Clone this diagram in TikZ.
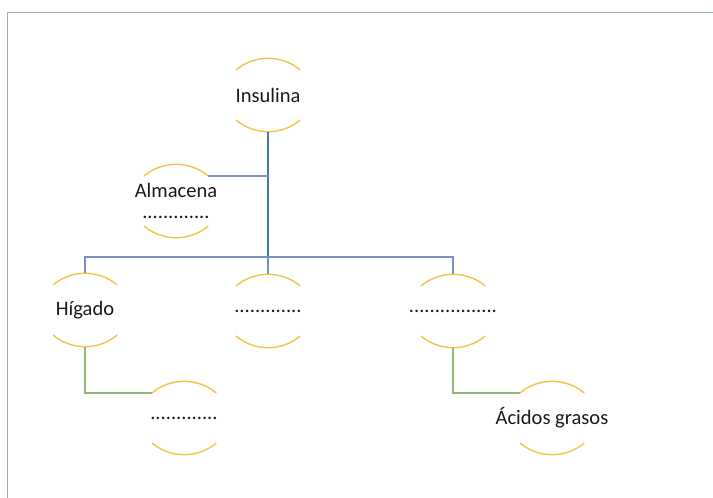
\documentclass[tikz,border=0pt]{standalone}
\usepackage{fontspec}
\setmainfont{Carlito}
\usepackage{tikz}
\usetikzlibrary{calc}
\usepackage{xcolor}
\definecolor{arcgold}{RGB}{240,198,70}
\definecolor{trunkblue}{RGB}{68,114,196}
\definecolor{busblue}{RGB}{122,146,192}
\definecolor{branchgreen}{RGB}{150,184,118}
\definecolor{framegrey}{RGB}{150,178,188}

\begin{document}
\begin{tikzpicture}[
        x=0.025cm,
        y=-0.025cm,
        entity/.style={
          align=center,
          inner sep=0pt,
          text=black!90,
          font=\fontsize{14.6}{15}\selectfont
        },
        halfarc/.style={
          draw=arcgold,
          line width=1pt
        },
        trunk/.style={
          draw=trunkblue,
          line width=1pt
        },
        bus/.style={
          draw=busblue,
          line width=1pt
        },
        branch/.style={
          draw=branchgreen,
          line width=1pt
        }
      ]
      \useasboundingbox (0,0) rectangle (713,498);

      % Frame
      \draw[draw=framegrey, line width=0.8pt] (7.5,498) -- (7.5,12.5) -- (713,12.5);

      % Entities
      \node[entity] (ins) at (268,95) {Insulina};
      \node[entity] (alm) at (176,201) {Almacena\\.............};
      \node[entity] (hig) at (85,310) {Hígado};
      \node[entity] (mid) at (268,311) {.............};
      \node[entity] (rgt) at (453,311) {.................};
      \node[entity] (blo) at (184,418) {.............};
      \node[entity] (aci) at (552,418) {Ácidos grasos};

      % Half circles
      \draw[halfarc] ([shift={(-32,-25)}]ins.center) arc[start angle=130, end angle=50, radius=1.25cm];
      \draw[halfarc] ([shift={(-32,25)}]ins.center) arc[start angle=230, end angle=310, radius=1.25cm];
      \draw[halfarc] ([shift={(-32,-25)}]alm.center) arc[start angle=130, end angle=50, radius=1.25cm];
      \draw[halfarc] ([shift={(-32,25)}]alm.center) arc[start angle=230, end angle=310, radius=1.25cm];
      \draw[halfarc] ([shift={(-32,-25)}]hig.center) arc[start angle=130, end angle=50, radius=1.25cm];
      \draw[halfarc] ([shift={(-32,25)}]hig.center) arc[start angle=230, end angle=310, radius=1.25cm];
      \draw[halfarc] ([shift={(-32,-25)}]mid.center) arc[start angle=130, end angle=50, radius=1.25cm];
      \draw[halfarc] ([shift={(-32,25)}]mid.center) arc[start angle=230, end angle=310, radius=1.25cm];
      \draw[halfarc] ([shift={(-32,-25)}]rgt.center) arc[start angle=130, end angle=50, radius=1.25cm];
      \draw[halfarc] ([shift={(-32,25)}]rgt.center) arc[start angle=230, end angle=310, radius=1.25cm];
      \draw[halfarc] ([shift={(-32,-25)}]blo.center) arc[start angle=130, end angle=50, radius=1.25cm];
      \draw[halfarc] ([shift={(-32,25)}]blo.center) arc[start angle=230, end angle=310, radius=1.25cm];
      \draw[halfarc] ([shift={(-32,-25)}]aci.center) arc[start angle=130, end angle=50, radius=1.25cm];
      \draw[halfarc] ([shift={(-32,25)}]aci.center) arc[start angle=230, end angle=310, radius=1.25cm];

      % Connectors
      \coordinate (split) at (268,257);
      \coordinate (alm-r) at ([shift={(32,-25)}]alm.center);
      \draw[trunk] ([yshift=-0.925cm]ins.center) -- (split);
      \draw[bus] (alm-r) -- (alm-r -| split);
      \draw[bus] ([yshift=0.925cm]hig.center) |- (split) -| ([yshift=0.925cm]rgt.center);
      \draw[bus] (split) -- ([yshift=0.925cm]mid.center);
      \draw[branch] ([yshift=-0.925cm]hig.center) |- ([shift={(-32,-25)}]blo.center);
      \draw[branch] ([yshift=-0.925cm]rgt.center) |- ([shift={(-32,-25)}]aci.center);

    \end{tikzpicture}
\end{document}
